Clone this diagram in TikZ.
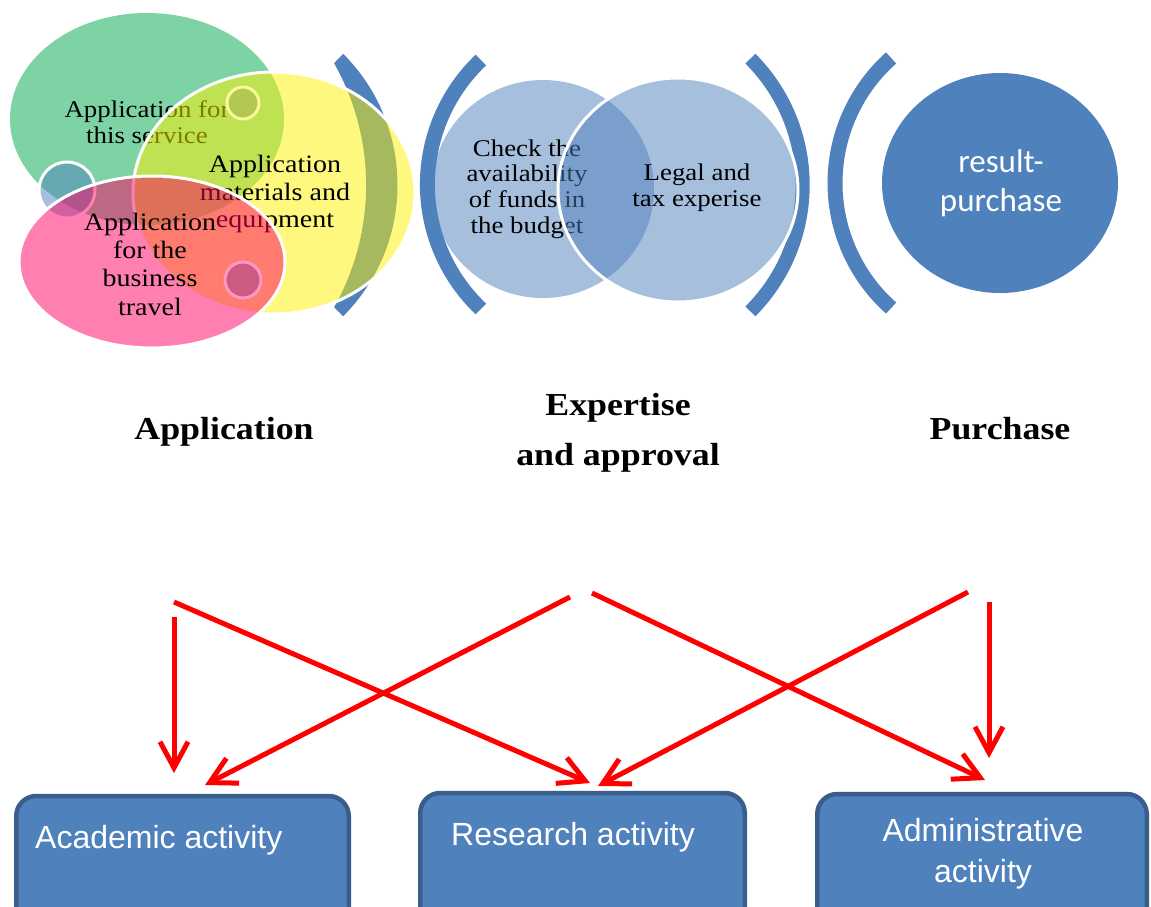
\documentclass[tikz,border=0pt]{standalone}
\usepackage{fontspec}
\setmainfont{Liberation Serif}[FakeStretch=1.12]
\newfontfamily\arialf{Liberation Sans}
\newfontfamily\calib{Carlito}
\usetikzlibrary{arrows.meta,shapes.geometric}
\definecolor{ablue}{RGB}{79,129,189}
\definecolor{bdark}{RGB}{58,94,140}
\definecolor{agreen}{RGB}{126,211,165}
\definecolor{pinkb}{RGB}{255,0,98}
\definecolor{olivec}{RGB}{178,200,80}
\definecolor{olivering}{RGB}{250,250,150}
\definecolor{pinkc}{RGB}{205,90,128}
\definecolor{pinkring}{RGB}{255,150,195}
\tikzset{
  ell/.style={ellipse, inner sep=0pt, outer sep=0pt},
  brk/.style={draw=ablue, line cap=butt},
  ser/.style={align=center, inner sep=0pt, text=black},
  lbl/.style={inner sep=0pt, font=\fontsize{32}{34}\selectfont\bfseries, anchor=base},
  box/.style={draw=bdark, line width=4.5pt, fill=ablue, rounded corners=20pt, minimum height=160pt, inner sep=0pt},
  boxtxt/.style={inner sep=0pt, text=white, font=\arialf\fontsize{32}{41}\selectfont},
  arr/.style={draw=red, line width=5pt, -{Straight Barb[length=26pt,width=28pt]}}
}
\begin{document}
\begin{tikzpicture}[x=1pt,y=-1pt]
\clip (0,0) rectangle (1151,906);
\fill[white] (0,0) rectangle (1151,906);

% ---- left group ----
\fill[ablue] (212,185) ++(45:185.5) arc[start angle=45, end angle=-45, radius=185.5]
  -- (334.1,63.2) arc[start angle=-29.4, end angle=29.4, radius=248.6] -- cycle;
\node[ell, fill=agreen, minimum width=274pt, minimum height=212pt] (green) at (147,119) {};
\node[circle, fill=ablue, fill opacity=0.5, draw=white, line width=3pt, minimum size=56pt, inner sep=0pt] (cB) at (67,190) {};
\node[ser, font=\fontsize{24}{26}\selectfont] (tgreen) at (147,122) {Application for\\this service};
\node[ell, fill=yellow, fill opacity=0.5, draw=white, line width=3pt, minimum width=282pt, minimum height=242pt] (yell) at (274,193) {};
\node[circle, fill=olivec, draw=olivering, line width=3pt, minimum size=32pt, inner sep=0pt] (cA) at (243,103) {};
\node[ser, font=\fontsize{25}{27.5}\selectfont] (tyell) at (275,194) {Application\\materials and\\equipment};
\node[ell, fill=pinkb, fill opacity=0.5, draw=white, line width=3pt, minimum width=266pt, minimum height=172pt] (pink) at (152,262) {};
\node[circle, fill=pinkc, draw=pinkring, line width=3pt, minimum size=36pt, inner sep=0pt] (cC) at (243,280) {};
\node[ser, font=\fontsize{25}{28.3}\selectfont] (tpink) at (150,264) {Application\\for the\\business\\travel};

% ---- middle group ----
\draw[brk, line width=15pt] (599,184.5) ++(133.5:171.6) arc[start angle=133.5, end angle=226.5, radius=171.6];
\draw[brk, line width=14pt] (624,185) ++(45:178.7) arc[start angle=45, end angle=-45, radius=178.7];
\node[ell, fill=ablue, fill opacity=0.5, minimum width=222pt, minimum height=218pt] (c1) at (543,189) {};
\node[ser, font=\fontsize{24}{25.7}\selectfont] (t1) at (527,189) {Check the\\availability\\of funds in\\the budget};
\node[ell, fill=ablue, fill opacity=0.5, draw=white, line width=3pt, minimum width=240pt, minimum height=224pt] (c2) at (678,190) {};
\node[ser, font=\fontsize{24}{26}\selectfont] (t2) at (697,188) {Legal and\\tax experise};

% ---- right group ----
\draw[brk, line width=15pt] (1002.5,183) ++(131.7:167.5) arc[start angle=131.7, end angle=228.3, radius=167.5];
\node[ell, fill=ablue, minimum width=236pt, minimum height=220pt] (res) at (1000,183) {};
\node[ser, text=white, font=\calib\fontsize{33}{39}\selectfont] (tres) at (1001,183) {result-\\purchase};

% ---- stage labels ----
\node[lbl] (lapp) at (224,439) {Application};
\node[lbl] (lexp) at (618,415) {Expertise};
\node[lbl] (lexp2) at (618,465) {and approval};
\node[lbl] (lpur) at (1000,439) {Purchase};

% ---- boxes ----
\node[box, minimum width=332.5pt] (b1) at (182.5,876) {};
\node[box, minimum width=324.5pt] (b2) at (582.5,873) {};
\node[box, minimum width=329.5pt] (b3) at (982,874) {};
\node[boxtxt, anchor=base west] (tb1) at (35,848) {Academic activity};
\node[boxtxt, anchor=base west] (tb2) at (451,845) {Research activity};
\node[boxtxt, align=center] (tb3) at (983,854) {Administrative\\activity};

% ---- arrows ----
\coordinate (s1) at (174,617); \coordinate (e1) at (174,773);
\coordinate (s2) at (174,602); \coordinate (e2) at (590,783);
\coordinate (s3) at (570,597); \coordinate (e3) at (205,785);
\coordinate (s4) at (592,593); \coordinate (e4) at (985,780);
\coordinate (s5) at (968,592); \coordinate (e5) at (598,786);
\coordinate (s6) at (989,602); \coordinate (e6) at (989,758);
\draw[arr] (s1) -- (e1);
\draw[arr] (s2) -- (e2);
\draw[arr] (s3) -- (e3);
\draw[arr] (s4) -- (e4);
\draw[arr] (s5) -- (e5);
\draw[arr] (s6) -- (e6);
\end{tikzpicture}
\end{document}
